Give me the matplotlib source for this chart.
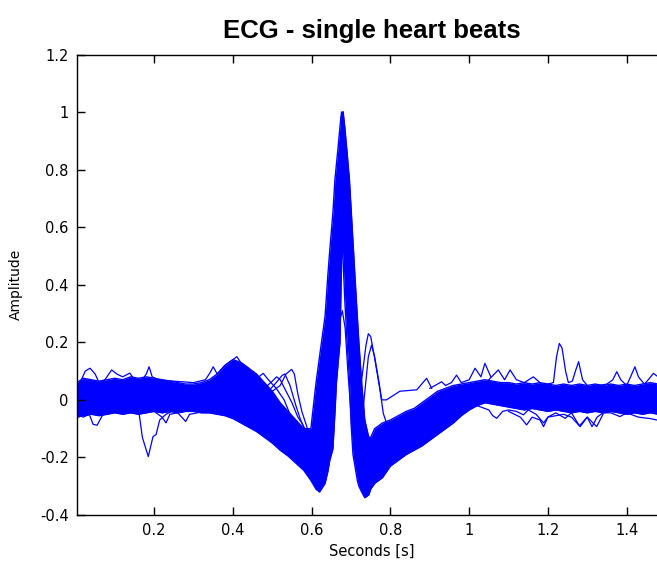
import matplotlib
matplotlib.use('Agg')
import matplotlib.pyplot as plt
from matplotlib.ticker import FuncFormatter

# dense band of beats, left half (up to the R peak)
t_left = [0.004, 0.02, 0.04, 0.06, 0.08, 0.10, 0.12, 0.14, 0.16, 0.18, 0.20, 0.22, 0.24,
          0.26, 0.28, 0.30, 0.32, 0.34, 0.36, 0.38, 0.40, 0.42, 0.44, 0.46, 0.48, 0.50,
          0.52, 0.54, 0.56, 0.58, 0.598, 0.611, 0.62, 0.634, 0.641, 0.646, 0.654, 0.659,
          0.663, 0.668, 0.672, 0.676, 0.68]
upper_left = [0.06, 0.075, 0.07, 0.065, 0.07, 0.075, 0.07, 0.08, 0.075, 0.08, 0.075, 0.07,
              0.065, 0.06, 0.055, 0.055, 0.06, 0.07, 0.09, 0.12, 0.14, 0.13, 0.11, 0.09,
              0.06, 0.03, -0.01, -0.04, -0.07, -0.10, -0.10, 0.058, 0.15, 0.29, 0.43, 0.52,
              0.65, 0.764, 0.82, 0.89, 0.95, 1.0, 1.0]
lower_left = [-0.06, -0.055, -0.05, -0.055, -0.05, -0.045, -0.05, -0.045, -0.05, -0.045,
              -0.04, -0.045, -0.04, -0.045, -0.04, -0.04, -0.045, -0.045, -0.05, -0.055,
              -0.065, -0.08, -0.095, -0.11, -0.13, -0.15, -0.175, -0.195, -0.22, -0.245,
              -0.28, -0.31, -0.32, -0.29, -0.25, -0.21, -0.17, -0.05, 0.06, 0.14, 0.2, 0.48,
              0.6]

# dense band, right half (from the R peak on)
t_right = [0.674, 0.68, 0.684, 0.69, 0.696, 0.70, 0.705, 0.71, 0.716, 0.72, 0.727, 0.735,
           0.745, 0.75, 0.76, 0.77, 0.78, 0.80, 0.82, 0.84, 0.86, 0.88, 0.90, 0.92, 0.94,
           0.96, 0.98, 1.00, 1.02, 1.04, 1.06, 1.08, 1.10, 1.12, 1.14, 1.16, 1.18, 1.20,
           1.22, 1.24, 1.26, 1.28, 1.30, 1.32, 1.34, 1.36, 1.38, 1.40, 1.42, 1.44, 1.46,
           1.48, 1.50]
upper_right = [0.98, 1.0, 0.95, 0.86, 0.764, 0.67, 0.55, 0.43, 0.29, 0.2, 0.06, -0.07,
               -0.13, -0.13, -0.10, -0.09, -0.08, -0.07, -0.055, -0.04, -0.03, -0.01, 0.01,
               0.03, 0.04, 0.05, 0.055, 0.06, 0.065, 0.07, 0.065, 0.06, 0.06, 0.055, 0.06,
               0.055, 0.06, 0.055, 0.05, 0.055, 0.05, 0.055, 0.05, 0.055, 0.05, 0.055,
               0.05, 0.055, 0.05, 0.055, 0.06, 0.055, 0.05]
lower_right = [0.6, 0.48, 0.35, 0.2, 0.07, -0.08, -0.19, -0.23, -0.28, -0.30, -0.32, -0.34,
               -0.33, -0.31, -0.29, -0.28, -0.27, -0.23, -0.21, -0.19, -0.175, -0.16, -0.14,
               -0.12, -0.10, -0.08, -0.055, -0.035, -0.02, -0.01, -0.015, -0.02, -0.025,
               -0.03, -0.035, -0.03, -0.035, -0.04, -0.035, -0.04, -0.045, -0.04, -0.045,
               -0.04, -0.045, -0.04, -0.045, -0.05, -0.045, -0.05, -0.045, -0.05, -0.045]

# single beats that stray outside the band
dip_t = [0.12, 0.15, 0.162, 0.17, 0.185, 0.197, 0.205, 0.214, 0.23, 0.26]
dip_y = [-0.03, -0.04, -0.05, -0.13, -0.197, -0.128, -0.12, -0.07, -0.05, -0.03]
top_left_t = [0.004, 0.015, 0.025, 0.037, 0.05, 0.06, 0.075, 0.092, 0.105, 0.12, 0.138, 0.15, 0.17]
top_left_y = [0.04, 0.07, 0.10, 0.11, 0.09, 0.06, 0.07, 0.104, 0.09, 0.08, 0.093, 0.07, 0.06]
low_left_t = [0.004, 0.02, 0.035, 0.045, 0.055, 0.07, 0.1, 0.14, 0.2, 0.22, 0.23, 0.24,
              0.26, 0.27, 0.28, 0.29, 0.31]
low_left_y = [-0.05, -0.06, -0.05, -0.085, -0.088, -0.05, -0.04, -0.04, -0.04, -0.06,
              -0.08, -0.05, -0.045, -0.06, -0.075, -0.05, -0.045]
top_mid_t = [0.15, 0.17, 0.18, 0.187, 0.195, 0.21, 0.25, 0.3, 0.33, 0.34, 0.35, 0.36, 0.38,
             0.40, 0.41, 0.42, 0.44]
top_mid_y = [0.06, 0.07, 0.09, 0.115, 0.08, 0.07, 0.065, 0.06, 0.07, 0.09, 0.115, 0.09,
             0.12, 0.14, 0.15, 0.13, 0.11]
early1_t = [0.46, 0.47, 0.477, 0.49, 0.51, 0.53, 0.545, 0.56]
early1_y = [0.07, 0.085, 0.092, 0.07, 0.04, 0.0, -0.05, -0.10]
early2_t = [0.48, 0.5, 0.511, 0.52, 0.535, 0.55, 0.565, 0.575, 0.59]
early2_y = [0.04, 0.065, 0.08, 0.07, 0.03, -0.01, -0.06, -0.08, -0.12]
early3_t = [0.50, 0.52, 0.535, 0.549, 0.556, 0.565, 0.575, 0.587, 0.60]
early3_y = [0.03, 0.05, 0.09, 0.106, 0.09, 0.02, -0.04, -0.09, -0.15]
early4_t = [0.49, 0.51, 0.525, 0.532, 0.545, 0.56, 0.572, 0.585]
early4_y = [0.03, 0.06, 0.085, 0.09, 0.05, -0.02, -0.07, -0.11]
small_r_t = [0.60, 0.62, 0.64, 0.655, 0.665, 0.672, 0.678, 0.685, 0.692, 0.70, 0.71, 0.725, 0.74]
small_r_y = [-0.2, -0.28, -0.22, 0.0, 0.18, 0.28, 0.31, 0.25, 0.1, -0.05, -0.2, -0.3, -0.28]
late1_t = [0.715, 0.727, 0.738, 0.744, 0.75, 0.758, 0.765, 0.774, 0.782, 0.79, 0.80]
late1_y = [-0.2, 0.07, 0.19, 0.23, 0.22, 0.16, 0.104, 0.03, -0.047, -0.08, -0.1]
late2_t = [0.72, 0.733, 0.744, 0.752, 0.76, 0.77, 0.778, 0.79, 0.824, 0.867, 0.892, 0.905]
late2_y = [-0.25, 0.0, 0.15, 0.19, 0.15, 0.07, 0.0, 0.0, 0.03, 0.035, 0.075, 0.04]
flat1_t = [0.90, 0.92, 0.93, 0.94, 0.955, 0.968, 0.98, 1.0, 1.015, 1.03, 1.04, 1.055]
flat1_y = [0.04, 0.055, 0.063, 0.05, 0.06, 0.086, 0.06, 0.07, 0.11, 0.08, 0.127, 0.08]
flat2_t = [1.05, 1.074, 1.09, 1.104, 1.12, 1.14, 1.163, 1.18]
flat2_y = [0.07, 0.104, 0.07, 0.104, 0.07, 0.06, 0.08, 0.06]
tall_t = [1.18, 1.2, 1.214, 1.222, 1.229, 1.236, 1.245, 1.252, 1.262, 1.27, 1.278, 1.288, 1.3]
tall_y = [0.05, 0.055, 0.06, 0.15, 0.196, 0.18, 0.1, 0.06, 0.065, 0.1, 0.133, 0.07, 0.05]
end_top_t = [1.33, 1.35, 1.365, 1.375, 1.385, 1.40, 1.41, 1.421, 1.43, 1.445, 1.455, 1.468, 1.5]
end_top_y = [0.05, 0.055, 0.07, 0.098, 0.07, 0.05, 0.08, 0.115, 0.08, 0.055, 0.07, 0.092, 0.06]
end_low1_t = [1.02, 1.05, 1.06, 1.07, 1.085, 1.1, 1.12, 1.138, 1.15, 1.17, 1.189, 1.2, 1.22,
              1.244, 1.26, 1.28, 1.3, 1.312, 1.325, 1.34, 1.36, 1.383, 1.4, 1.43, 1.46, 1.477, 1.5]
end_low1_y = [-0.02, -0.035, -0.055, -0.064, -0.04, -0.035, -0.04, -0.052, -0.035, -0.05,
              -0.08, -0.06, -0.045, -0.064, -0.045, -0.09, -0.06, -0.093, -0.06, -0.045,
              -0.045, -0.058, -0.045, -0.06, -0.065, -0.07, -0.06]
end_low2_t = [1.1, 1.13, 1.146, 1.16, 1.18, 1.189, 1.2, 1.24, 1.26, 1.282, 1.3, 1.324, 1.34]
end_low2_y = [-0.04, -0.06, -0.087, -0.06, -0.07, -0.093, -0.06, -0.05, -0.06, -0.093,
              -0.06, -0.093, -0.05]

beats = [(dip_t, dip_y), (top_left_t, top_left_y), (low_left_t, low_left_y),
         (top_mid_t, top_mid_y), (early1_t, early1_y), (early2_t, early2_y),
         (early3_t, early3_y), (early4_t, early4_y), (small_r_t, small_r_y),
         (late1_t, late1_y), (late2_t, late2_y), (flat1_t, flat1_y), (flat2_t, flat2_y),
         (tall_t, tall_y), (end_top_t, end_top_y), (end_low1_t, end_low1_y),
         (end_low2_t, end_low2_y)]

blue = '#0000ff'
plt.rcParams['font.family'] = ['DejaVu Sans']

fig = plt.figure(figsize=(6.57, 5.63), dpi=100)
ax = fig.add_axes([77 / 657, 48 / 563, 589 / 657, 460.5 / 563])

ax.fill_between(t_left, lower_left, upper_left, color=blue, linewidth=0)
ax.fill_between(t_right, lower_right, upper_right, color=blue, linewidth=0)
for t, y in [(t_left, upper_left), (t_left, lower_left),
             (t_right, upper_right), (t_right, lower_right)]:
    ax.plot(t, y, color=blue, linewidth=1.0)
for t, y in beats:
    ax.plot(t, y, color=blue, linewidth=0.9)

ax.set_xlim(0.004, 1.5)
ax.set_ylim(-0.4, 1.2)
ax.set_xticks([0.2, 0.4, 0.6, 0.8, 1.0, 1.2, 1.4])
ax.set_yticks([-0.4, -0.2, 0, 0.2, 0.4, 0.6, 0.8, 1.0, 1.2])
fmt = FuncFormatter(lambda v, p: '%g' % round(v, 2))
ax.xaxis.set_major_formatter(fmt)
ax.yaxis.set_major_formatter(fmt)
ax.tick_params(direction='in', length=6, width=1, top=True, right=True,
               labelsize=10.5, colors='black', pad=6)
for s in ax.spines.values():
    s.set_linewidth(1.0)

ax.set_title('ECG - single heart beats', fontsize=18.5, fontweight='bold', pad=12,
             family=['Liberation Sans', 'DejaVu Sans'])
ax.set_xlabel('Seconds [s]', fontsize=10.5, labelpad=4)
ax.set_ylabel('Amplitude', fontsize=10, labelpad=12)

fig.savefig('out.png', dpi=100)
